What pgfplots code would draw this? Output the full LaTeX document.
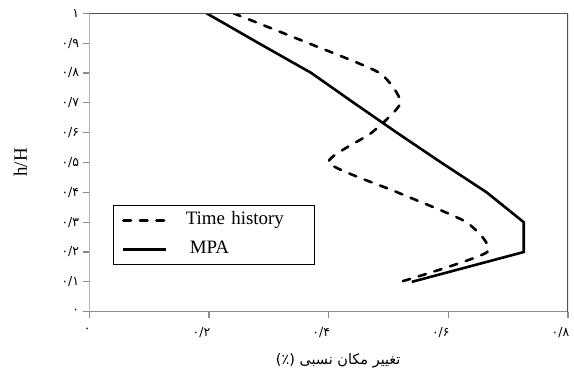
\documentclass[border=0pt]{standalone}
\usepackage{fontspec}
\setmainfont{Liberation Serif}
\newfontfamily\arabicfont[Script=Arabic]{DejaVu Sans}
\TeXXeTstate=1
\usepackage{pgfplots}
\pgfplotsset{compat=1.18}
\definecolor{axgray}{HTML}{8C8C8C}
\definecolor{axdark}{HTML}{505050}
\begin{document}
\begin{tikzpicture}
\useasboundingbox (-89.3bp,-66.3bp) rectangle (484.7bp,311.7bp);
\begin{axis}[
  at={(0,0)}, anchor=south west,
  scale only axis, width=478.7bp, height=298.4bp,
  xmin=0, xmax=0.8, ymin=0, ymax=1,
  axis line style={draw=none},
  xtick={0,0.2,0.4,0.6,0.8},
  xticklabels={۰,۰/۲,۰/۴,۰/۶,۰/۸},
  ytick={0,0.1,0.2,0.3,0.4,0.5,0.6,0.7,0.8,0.9,1},
  yticklabels={۰,۰/۱,۰/۲,۰/۳,۰/۴,۰/۵,۰/۶,۰/۷,۰/۸,۰/۹,۱},
  xtick pos=bottom, ytick pos=left,
  tick align=outside,
  major tick length=6bp,
  tick style={color=axgray, line width=1.2bp},
  xticklabel style={font=\arabicfont\fontsize{12.5}{14}\selectfont, inner sep=0pt, anchor=north east, xshift=1.5bp, yshift=-10bp},
  yticklabel style={font=\arabicfont\fontsize{12.5}{14}\selectfont, inner sep=0pt, xshift=-4bp},
  xlabel={\arabicfont (٪)\ \beginR تغییر مکان نسبی\endR},
  xlabel style={font=\fontsize{14.5}{17}\selectfont, at={(axis description cs:0.52,-0.165)}, anchor=center},
  ylabel={h/H},
  ylabel style={font=\fontsize{19}{22}\selectfont, at={(axis description cs:-0.144,0.5)}, anchor=center},
  legend style={at={(rel axis cs:0.049,0.358)}, anchor=north west, draw=black, line width=0.8bp,
    font=\fontsize{19}{22}\selectfont, inner xsep=9bp, inner ysep=0.5bp,
    nodes={text width=118bp, text height=14bp, text depth=5bp, inner ysep=5bp, inner xsep=2bp},
    /tikz/every odd column/.append style={column sep=16bp}},
  legend cell align=left,
  legend image code/.code={\draw[#1] (0bp,0bp) -- (43bp,0bp);},
]
\addplot[black, line width=2.6bp, dash pattern=on 7.5bp off 9bp, line cap=round, smooth, tension=0.35] coordinates {
(0.241,1.0) (0.366,0.9) (0.485,0.8) (0.52,0.7) (0.472,0.6) (0.40,0.5) (0.515,0.4) (0.63,0.3) (0.665,0.2) (0.52,0.1)
};
\addlegendentry{Time history}
\addplot[black, line width=2.6bp, line join=miter] coordinates {
(0.196,1.0) (0.283,0.9) (0.371,0.8) (0.442,0.7) (0.514,0.6) (0.588,0.5) (0.664,0.4) (0.726,0.3) (0.726,0.2) (0.539,0.1)
};
\addlegendentry{\hspace{4bp}MPA}
\draw[axgray, line width=1.4bp] (rel axis cs:0,0) -- (rel axis cs:0,1);
\draw[axgray, line width=1.4bp] (rel axis cs:0,0) -- (rel axis cs:1,0);
\draw[axdark, line width=1.4bp] (rel axis cs:0,1) -- (rel axis cs:1,1) -- (rel axis cs:1,0);
\end{axis}
\end{tikzpicture}
\end{document}
